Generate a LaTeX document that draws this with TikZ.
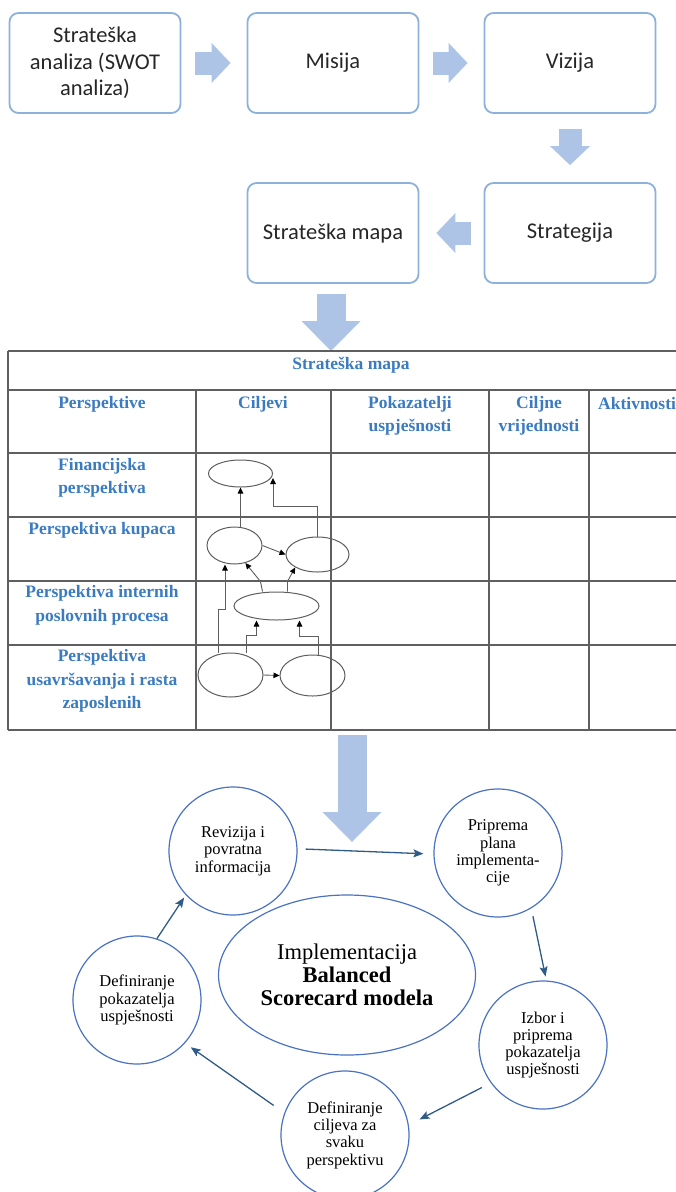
\documentclass[tikz,border=0pt]{standalone}
\usepackage{fontspec}
\setmainfont{Liberation Serif}
\newfontfamily\boxfont{Carlito}
\usepackage{xcolor}
\usepackage{tikz}
\usetikzlibrary{calc,positioning,arrows.meta,shapes.geometric}
\definecolor{boxline}{HTML}{8EB1DB}
\definecolor{boxtext}{HTML}{262626}
\definecolor{fatfill}{HTML}{AEC4E6}
\definecolor{mapblue}{HTML}{3B7BC0}
\definecolor{gridgray}{HTML}{5F5F5F}
\definecolor{goalgray}{HTML}{5E5E5E}
\definecolor{cycline}{HTML}{4A72C2}
\definecolor{cycarrow}{HTML}{2F5B88}
\tikzset{
  stepbox/.style={draw=boxline,line width=1.8pt,rounded corners=9pt,
    minimum width=171pt,minimum height=100pt,inner sep=2pt,align=center,
    text=boxtext,font=\boxfont\fontsize{22.5}{26.7}\selectfont},
  fat/.style={draw=fatfill,line width=23pt,
    -{Triangle[length=19pt,width=40pt,line width=0pt]}},
  fatbig/.style={draw=fatfill,line width=29pt,
    -{Triangle[length=30pt,width=59pt,line width=0pt]}},
  grid/.style={draw=gridgray,line width=1.5pt},
  head/.style={text=mapblue,font=\bfseries\fontsize{17.5}{23.5}\selectfont,
    align=center,inner sep=0pt},
  goal/.style={ellipse,draw=goalgray,line width=1pt,inner sep=0pt},
  link/.style={draw=goalgray,line width=0.9pt,
    -{Triangle[length=6pt,width=5.5pt,fill=black,color=black]}},
  stage/.style={circle,draw=cycline,line width=1.2pt,minimum size=128pt,
    inner sep=0pt,align=center,font=\fontsize{16.5}{17.3}\selectfont},
  cyc/.style={draw=cycarrow,line width=1.3pt,
    -{Stealth[length=10pt,width=8pt,inset=2pt]}},
}
\begin{document}
\begin{tikzpicture}[x=1pt,y=-1pt]
  \useasboundingbox (0,0) rectangle (676,1192);
  % process boxes
  \node[stepbox] (sa) at (95,63)  {Strateška\\analiza (SWOT\\analiza)};
  \node[stepbox] (mi) at (333,63) {Misija};
  \node[stepbox] (vi) at (570,63) {Vizija};
  \node[stepbox] (st) at (570,233) {Strategija};
  \node[stepbox] (sm) at (333,233) {Strateška mapa};
  \draw[fat,shorten <=14pt,shorten >=16pt] (sa.east) -- (mi.west);
  \draw[fat,shorten <=14pt,shorten >=16pt] (mi.east) -- (vi.west);
  \draw[fat,shorten <=15pt,shorten >=17pt] (vi.south) -- (st.north);
  \draw[fat,shorten <=13pt,shorten >=17pt] (st.west) -- (sm.east);

  % strategy map table
  \coordinate (maptop) at (331,351);
  \draw[fatbig,shorten <=10pt] (sm.south -| maptop) -- (maptop);
  \foreach \y in {351,390,453,517,581,645,730}
    \draw[grid] (8,\y) -- (676,\y);
  \draw[grid] (8,351) -- (8,730);
  \foreach \x in {196,331,489,589}
    \draw[grid] (\x,390) -- (\x,730);
  \node[head] (title) at (351,365) {Strateška mapa};
  \node[head] (hper) at (102,404) {Perspektive};
  \node[head] (hcil) at (263,404) {Ciljevi};
  \node[head] (hpok) at (410,416) {Pokazatelji\\uspješnosti};
  \node[head] (hvri) at (539,416) {Ciljne\\vrijednosti};
  \node[head,anchor=west] (hakt) at (598,404) {Aktivnosti};
  \node[head] (pfin) at (102,478) {Financijska\\perspektiva};
  \node[head] (pkup) at (102,530) {Perspektiva kupaca};
  \node[head] (pint) at (102,605.5) {Perspektiva internih\\poslovnih procesa};
  \node[head] (pusa) at (102,681) {Perspektiva\\usavršavanja i rasta\\zaposlenih};

  % goals
  \node[goal,minimum width=64pt,minimum height=27pt] (g1) at (240.5,473.5) {};
  \node[goal,minimum width=55pt,minimum height=37pt] (g2) at (234.5,545.5) {};
  \node[goal,minimum width=63pt,minimum height=35pt] (g3) at (317.5,554.5) {};
  \node[goal,minimum width=85pt,minimum height=28pt] (g4) at (276.5,606) {};
  \node[goal,minimum width=65pt,minimum height=44pt] (g5) at (230.5,675) {};
  \node[goal,minimum width=65pt,minimum height=41pt] (g6) at (312.5,675.5) {};
  \draw[link] (g1.south |- g2.north) -- (g1.south);
  \draw[link] (g3.north) -- ++(0,-30) -| ([yshift=-4.5pt]g1.east);
  \draw[link] (g2.east) -- (g3.west);
  \draw[link] ([xshift=-14pt]g4.north) -- ++(-2,-10) -- (g2.-58);
  \draw[link] ([xshift=11pt]g4.north) -- ++(0,-10) -- (g3.-150);
  \draw[link] ([xshift=-12pt]g5.north) -- ++(0,-43) -| ([xshift=-9.5pt]g2.south);
  \draw[link] ([xshift=15.5pt]g5.north) -- ++(0,-17) -| ([xshift=-20pt]g4.south);
  \draw[link] ([xshift=6pt]g6.north) -- ++(0,-18) -| ([xshift=23pt]g4.south);
  \draw[link] (g5.east) -- (g6.west);

  % implementation cycle
  \coordinate (mapbot) at (352,735);
  \coordinate (cyctop) at (352,842);
  \draw[fatbig] (mapbot) -- (cyctop);
  \node[ellipse,draw=cycline,line width=1.2pt,minimum width=257pt,
    minimum height=160pt,inner sep=0pt,align=center,
    font=\fontsize{22.5}{23}\selectfont] (impl) at (347,975)
    {Implementacija\\\textbf{Balanced}\\\textbf{Scorecard modela}};
  \node[stage] (rev)  at (233,851)  {Revizija i\\povratna\\informacija};
  \node[stage] (prep) at (498,853)  {Priprema\\plana\\implementa-\\cije};
  \node[stage] (izb)  at (543,1045) {Izbor i\\priprema\\pokazatelja\\uspješnosti};
  \node[stage] (cilj) at (345,1135) {Definiranje\\ciljeva za\\svaku\\perspektivu};
  \node[stage] (pok)  at (137,1000) {Definiranje\\pokazatelja\\uspješnosti};
  \draw[cyc,shorten <=8pt,shorten >=10pt] (rev.2) -- (prep.181);
  \draw[cyc,shorten <=8pt,shorten >=4pt] (prep.-59) -- (izb.87);
  \draw[cyc,shorten <=10pt,shorten >=12pt] (izb.216) -- (cilj.9);
  \draw[cyc,shorten <=13pt,shorten >=7pt] (cilj.160) -- (pok.-42);
  \draw[cyc,shorten >=3pt] (pok.72) -- (rev.223);
\end{tikzpicture}
\end{document}
